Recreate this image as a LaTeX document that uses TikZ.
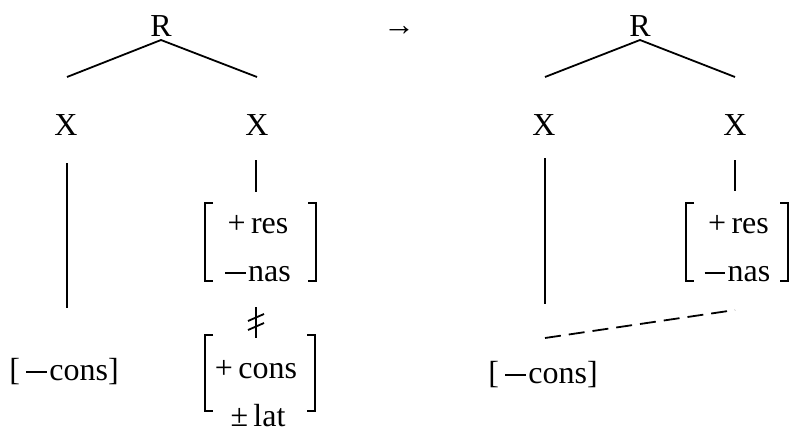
\documentclass[tikz,border=0pt]{standalone}
\usepackage{fontspec}
\setmainfont{Liberation Serif}
\newcommand\mns{\raisebox{0.22em}{\rule{0.64em}{0.06em}}}
\begin{document}
\begin{tikzpicture}[x=1pt,y=-1pt,
  txt/.style={font=\fontsize{32}{38}\selectfont, inner sep=0pt, anchor=base},
  lin/.style={line width=1.8pt},
  brk/.style={line width=1.8pt},
  dsh/.style={line width=1.8pt, dash pattern=on 16pt off 8pt}]
\useasboundingbox (0,0) rectangle (790,428);
% ---------- left tree ----------
\node[txt] (R1) at (161,37) {R};
\coordinate (R1a) at (161,40);
\coordinate (R1l) at (67,77);
\coordinate (R1r) at (257,77);
\draw[lin] (R1l) -- (R1a) -- (R1r);
\node[txt] (X1l) at (66,135) {X};
\node[txt] (X1r) at (257,135) {X};
\coordinate (L1t) at (67,163);
\coordinate (L1b) at (67,308);
\draw[lin] (L1t) -- (L1b);
\coordinate (S1t) at (256,160);
\coordinate (S1b) at (256,192);
\draw[lin] (S1t) -- (S1b);
\node[txt] (res1) at (258,233) {+\,res};
\node[txt] (nas1) at (258,281) {\mns\hspace{0.08em}nas};
\draw[brk] (213,203) -- (205,203) -- (205,281) -- (213,281);
\draw[brk] (308,203) -- (316,203) -- (316,281) -- (308,281);
% blocked association
\coordinate (B1t) at (256,307);
\coordinate (B1b) at (256,338);
\draw[lin] (B1t) -- (B1b);
\draw[lin] (248,321) -- (264,314);
\draw[lin] (248,330) -- (264,323);
\node[txt] (cons1) at (64,380) {[\hspace{0.2em}\mns\hspace{0.08em}cons]};
\node[txt] (cons2) at (256,378) {+\,cons};
\node[txt] (lat2) at (258,426) {±\,lat};
\draw[brk] (213,335) -- (205,335) -- (205,411) -- (213,411);
\draw[brk] (307,335) -- (315,335) -- (315,411) -- (307,411);
% ---------- arrow ----------
\node[txt] (arr) at (399,36) {→};
% ---------- right tree ----------
\node[txt] (R2) at (640,37) {R};
\coordinate (R2a) at (640,40);
\coordinate (R2l) at (545,77);
\coordinate (R2r) at (735,77);
\draw[lin] (R2l) -- (R2a) -- (R2r);
\node[txt] (X2l) at (544,135) {X};
\node[txt] (X2r) at (735,135) {X};
\coordinate (L2t) at (545,158);
\coordinate (L2b) at (545,304);
\draw[lin] (L2t) -- (L2b);
\coordinate (S2t) at (735,160);
\coordinate (S2b) at (735,191);
\draw[lin] (S2t) -- (S2b);
\node[txt] (res2) at (738.5,233) {+\,res};
\node[txt] (nas2) at (737.5,281) {\mns\hspace{0.08em}nas};
\draw[brk] (694,203) -- (686,203) -- (686,281) -- (694,281);
\draw[brk] (780,203) -- (788,203) -- (788,281) -- (780,281);
\coordinate (D2r) at (735,310);
\coordinate (D2l) at (545,338);
\draw[dsh] (D2l) -- (D2r);
\node[txt] (cons3) at (543,383) {[\hspace{0.2em}\mns\hspace{0.08em}cons]};
\end{tikzpicture}
\end{document}
